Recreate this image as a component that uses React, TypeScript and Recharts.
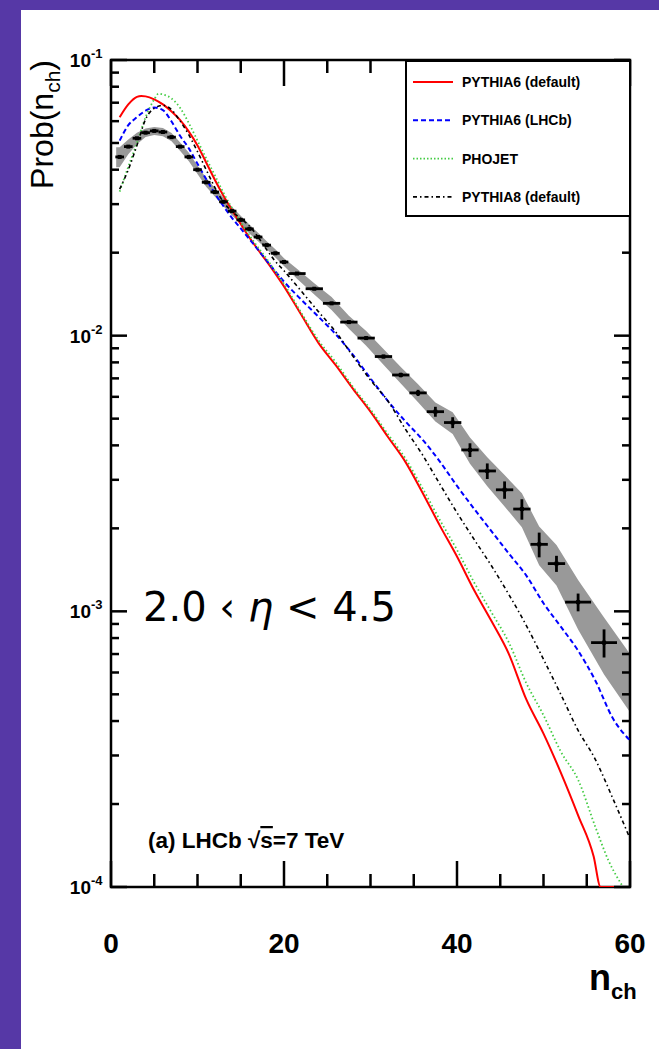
import React from 'react';
import {
  ComposedChart,
  Line,
  Area,
  Scatter,
  ErrorBar,
  XAxis,
  YAxis,
  ReferenceArea,
  Legend,
} from 'recharts';

// ---------------- data ----------------
// measured data points (bin centre, value, half bin width, stat error)
const dataN = [1, 2, 3, 4, 5, 6, 7, 8, 9, 10, 11, 12, 13, 14, 15, 16, 17, 18, 19, 20,
  21.5, 23.5, 25.5, 27.5, 29.5, 31.5, 33.5, 35.5, 37.5, 39.5, 41.5, 43.5, 45.5, 47.5, 49.5, 51.5, 54, 57];
const dataV = [0.0445, 0.0485, 0.052, 0.0545, 0.0553, 0.0548, 0.0525, 0.0485, 0.0445, 0.04,
  0.036, 0.0332, 0.0306, 0.0283, 0.0263, 0.0244, 0.0228, 0.0213, 0.0199, 0.0185,
  0.0168, 0.0148, 0.0131, 0.0112, 0.0098, 0.0084, 0.0072, 0.0062, 0.0053, 0.00484,
  0.00385, 0.00323, 0.00276, 0.00235, 0.00175, 0.00149, 0.00108, 0.00077];
const dataEx = [0.5, 0.5, 0.5, 0.5, 0.5, 0.5, 0.5, 0.5, 0.5, 0.5, 0.5, 0.5, 0.5, 0.5, 0.5, 0.5, 0.5, 0.5, 0.5, 0.5,
  1, 1, 1, 1, 1, 1, 1, 1, 1, 1, 1, 1, 1, 1, 1, 1, 1.5, 1.5];
const dataEy = [0.0002, 0.0002, 0.0002, 0.0002, 0.0002, 0.0002, 0.0002, 0.0002, 0.0002, 0.0002,
  0.0002, 0.0002, 0.00018, 0.00017, 0.00016, 0.00015, 0.00014, 0.00013, 0.00012, 0.00012,
  0.00015, 0.00014, 0.00013, 0.00013, 0.00013, 0.00013, 0.00014, 0.00016, 0.00022, 0.00022,
  0.00022, 0.00021, 0.0002, 0.0002, 0.00018, 0.0001, 0.00008, 0.00009];

// systematic uncertainty band
const bandN = [0.6, 1, 2, 3, 4, 5, 6, 7, 8, 9, 10, 11, 12, 13, 14, 15, 16, 17, 18, 19, 20,
  21.5, 23.5, 25.5, 27.5, 29.5, 31.5, 33.5, 35.5, 37.5, 39.5, 41.5, 43.5, 45.5, 47.5, 49.5, 51.5, 54, 57, 60];
const bandLow = [0.0408, 0.0408, 0.0455, 0.0495, 0.0526, 0.0534, 0.0529, 0.0507, 0.0468, 0.0429, 0.0386,
  0.0347, 0.032, 0.0295, 0.0273, 0.0254, 0.0235, 0.022, 0.0206, 0.0192, 0.0179,
  0.0161, 0.0141, 0.0124, 0.0106, 0.0092, 0.00785, 0.0067, 0.00574, 0.00488, 0.0044,
  0.00343, 0.00284, 0.0024, 0.00202, 0.00147, 0.00124, 0.00086, 0.00059, 0.00043];
const bandHigh = [0.0482, 0.0482, 0.0515, 0.0545, 0.0564, 0.0572, 0.0567, 0.0543, 0.0502, 0.0461, 0.0414,
  0.0373, 0.0344, 0.0317, 0.0293, 0.0272, 0.0253, 0.0236, 0.022, 0.0206, 0.0191,
  0.0175, 0.0155, 0.0138, 0.0118, 0.0104, 0.00895, 0.0077, 0.00667, 0.00572, 0.00528,
  0.00427, 0.00362, 0.00312, 0.00268, 0.00203, 0.00174, 0.0013, 0.00095, 0.0007];

// PYTHIA6 (default)
const p6DefN = [1, 2, 3, 3.5, 4, 5, 6, 7, 8, 9, 10, 11, 12, 13, 14, 15, 16, 17, 18, 19, 20,
  22, 24, 26, 28, 30, 32, 34, 36, 38, 40, 42, 44, 46, 48, 50, 52, 54, 55.8, 56.6, 58, 60];
const p6DefV = [0.062, 0.069, 0.0735, 0.074, 0.0738, 0.072, 0.069, 0.065, 0.0605, 0.055, 0.049,
  0.0425, 0.0368, 0.0322, 0.0285, 0.0254, 0.0227, 0.0205, 0.0186, 0.0168, 0.0151,
  0.0119, 0.0094, 0.0078, 0.0064, 0.0053, 0.0043, 0.0035, 0.0027, 0.00205, 0.00158,
  0.00119, 0.00092, 0.0007, 0.00048, 0.00036, 0.00026, 0.000182, 0.000129, 0.0001, 0.0001, 0.0001];

// PYTHIA6 (LHCb)
const p6LhcbN = [1, 2, 3, 4, 5, 6, 7, 8, 9, 10, 11, 12, 13, 14, 15, 16, 17, 18, 19, 20,
  22, 24, 26, 28, 30, 32, 34, 36, 38, 40, 42, 44, 46, 48, 50, 52, 54, 56, 58, 60];
const p6LhcbV = [0.051, 0.058, 0.062, 0.0655, 0.0672, 0.0658, 0.0598, 0.053, 0.0478, 0.042,
  0.037, 0.0328, 0.0295, 0.0267, 0.0245, 0.0224, 0.0205, 0.0187, 0.0171, 0.0157,
  0.0135, 0.0117, 0.0101, 0.0085, 0.007, 0.0058, 0.0049, 0.0042, 0.0035, 0.00285,
  0.00235, 0.00195, 0.00162, 0.00135, 0.00107, 0.00088, 0.00072, 0.00056, 0.00041, 0.00034];

// PHOJET
const phojetN = [1, 2, 3, 4, 5, 5.5, 6, 7, 8, 9, 10, 11, 12, 13, 14, 15, 16, 17, 18, 19, 20,
  22, 24, 26, 28, 30, 32, 34, 36, 38, 40, 42, 44, 46, 48, 50, 52, 54, 56, 57.5, 59.2];
const phojetV = [0.0333, 0.041, 0.05, 0.062, 0.072, 0.0755, 0.075, 0.0725, 0.067, 0.059, 0.051,
  0.044, 0.0382, 0.033, 0.029, 0.0258, 0.0231, 0.0209, 0.019, 0.0171, 0.0154,
  0.0121, 0.0096, 0.008, 0.0065, 0.0054, 0.0044, 0.0036, 0.0028, 0.00215, 0.00167,
  0.00127, 0.00099, 0.00077, 0.00055, 0.00042, 0.00031, 0.000245, 0.000165, 0.000125, 0.0001];

// PYTHIA8 (default)
const p8N = [1, 2, 3, 4, 5, 6, 7, 8, 9, 10, 11, 12, 13, 14, 15, 16, 17, 18, 19, 20,
  22, 24, 26, 28, 30, 32, 34, 36, 38, 40, 42, 44, 46, 48, 50, 52, 54, 56, 58, 60];
const p8V = [0.034, 0.04, 0.049, 0.061, 0.0668, 0.0685, 0.066, 0.06, 0.0535, 0.0465,
  0.04, 0.0345, 0.0305, 0.0282, 0.0266, 0.025, 0.0228, 0.0205, 0.0186, 0.0172,
  0.0145, 0.0122, 0.0103, 0.0084, 0.0069, 0.0058, 0.0046, 0.0037, 0.0029, 0.00228,
  0.00182, 0.00146, 0.00115, 0.00089, 0.00067, 0.0005, 0.00037, 0.00029, 0.00021, 0.00015];

// ticks
const xTicks = [0, 5, 10, 15, 20, 25, 30, 35, 40, 45, 50, 55, 60];
const xLabelTicks = [0, 20, 40, 60];
const yTicks = [0.0001, 0.0002, 0.0003, 0.0004, 0.0005, 0.0006, 0.0007, 0.0008, 0.0009,
  0.001, 0.002, 0.003, 0.004, 0.005, 0.006, 0.007, 0.008, 0.009,
  0.01, 0.02, 0.03, 0.04, 0.05, 0.06, 0.07, 0.08, 0.09, 0.1];
const yLabelTicks = [0.0001, 0.001, 0.01, 0.1];
const yLabelExp = ['-4', '-3', '-2', '-1'];

const legendNames = ['PYTHIA6 (default)', 'PYTHIA6 (LHCb)', 'PHOJET', 'PYTHIA8 (default)'];

// ---------------- tables ----------------
const dataRows = dataN.map((n, i) => ({ n, v: dataV[i], ex: dataEx[i], ey: dataEy[i] }));
const bandRows = bandN.map((n, i) => ({ n, band: [bandLow[i], bandHigh[i]] }));
const rows = (ns: number[], vs: number[]) => ns.map((n, i) => ({ n, v: vs[i] }));
const p6DefRows = rows(p6DefN, p6DefV);
const p6LhcbRows = rows(p6LhcbN, p6LhcbV);
const phojetRows = rows(phojetN, phojetV);
const p8Rows = rows(p8N, p8V);

// ---------------- layout & style ----------------
const W = 659;
const H = 1049;
const PL = 111;
const PR = 630;
const PT = 60;
const PB = 887;
const SANS = "'Liberation Sans', Arial, Helvetica, sans-serif";

const RED = '#ff0000';
const BLUE = '#0000ff';
const GREEN = '#44cc44';
const BLACK = '#000000';

const legendStyles = [
  { color: RED, dash: undefined as string | undefined, w: 2 },
  { color: BLUE, dash: '5 3', w: 2 },
  { color: GREEN, dash: '1.5 2', w: 1.6 },
  { color: BLACK, dash: '4 3 1.5 3', w: 1.6 },
];

const XTick = (props: any) => {
  const { x, payload } = props;
  const v = payload.value;
  const major = xLabelTicks.indexOf(v) >= 0;
  const len = major ? 26 : 13;
  return (
    <g>
      <line x1={x} x2={x} y1={PB} y2={PB - len} stroke="#000" strokeWidth={2.5} />
      <line x1={x} x2={x} y1={PT} y2={PT + len} stroke="#000" strokeWidth={2.5} />
      {major && (
        <text x={x} y={953} textAnchor="middle" fontSize={28} fontWeight="bold" fontFamily={SANS} fill="#000">
          {String(v)}
        </text>
      )}
    </g>
  );
};

const YTick = (props: any) => {
  const { y, payload } = props;
  const v = payload.value;
  const idx = yLabelTicks.findIndex((t) => Math.abs(t - v) / t < 1e-6);
  const major = idx >= 0;
  const len = major ? 16 : 8;
  return (
    <g>
      <line x1={PL} x2={PL + len} y1={y} y2={y} stroke="#000" strokeWidth={2.5} />
      <line x1={PR - len} x2={PR} y1={y} y2={y} stroke="#000" strokeWidth={2.5} />
      {major && (
        <g>
          <text x={91} y={y + 7} textAnchor="end" fontSize={19} fontWeight="bold" fontFamily={SANS} fill="#000">
            10
          </text>
          <text x={91} y={y - 2} textAnchor="start" fontSize={13} fontWeight="bold" fontFamily={SANS} fill="#000">
            {yLabelExp[idx]}
          </text>
        </g>
      )}
    </g>
  );
};

const LegendBox = () => (
  <div
    style={{
      width: 226,
      height: 157,
      boxSizing: 'border-box',
      border: '2.5px solid #000',
      background: '#fff',
    }}
  >
    <svg width={221} height={152} style={{ display: 'block' }}>
      {legendNames.map((name, i) => {
        const cy = 20 + i * 38.3;
        const s = legendStyles[i];
        return (
          <g key={name}>
            <line x1={6} x2={46} y1={cy} y2={cy} stroke={s.color} strokeWidth={s.w} strokeDasharray={s.dash} />
            <text x={55} y={cy + 5} fontSize={14} fontWeight="bold" fontFamily={SANS} fill="#000">
              {name}
            </text>
          </g>
        );
      })}
    </svg>
  </div>
);

const DataMarker = (props: any) => {
  const { cx, cy } = props;
  if (cx == null || cy == null) return null;
  return <rect x={cx - 2} y={cy - 2} width={4} height={4} fill="#000" />;
};

export default function App() {
  return (
    <div style={{ position: 'absolute', left: 0, top: 0, width: W, height: H, background: '#5638a6', overflow: 'hidden' }}>
      <div style={{ position: 'absolute', left: 21, top: 10, right: 0, bottom: 0, background: '#ffffff' }} />
      <div style={{ position: 'absolute', left: 0, top: 0 }}>
        <ComposedChart width={W} height={H} margin={{ top: PT, right: W - PR, bottom: H - PB - 1, left: PL - 1 }}>
          <XAxis
            dataKey="n"
            type="number"
            domain={[0, 60]}
            ticks={xTicks}
            interval={0}
            tick={XTick}
            tickLine={false}
            axisLine={false}
            height={1}
            allowDataOverflow
          />
          <YAxis
            type="number"
            scale="log"
            domain={[0.0001, 0.1]}
            ticks={yTicks}
            interval={0}
            tick={YTick}
            tickLine={false}
            axisLine={false}
            width={1}
            allowDataOverflow
          />
          <Area
            data={bandRows}
            dataKey="band"
            type="linear"
            fill="#999999"
            fillOpacity={1}
            stroke="none"
            isAnimationActive={false}
            legendType="none"
          />
          <Line data={p6DefRows} dataKey="v" name={legendNames[0]} type="monotone" stroke={RED} strokeWidth={2} dot={false} isAnimationActive={false} />
          <Line data={p6LhcbRows} dataKey="v" name={legendNames[1]} type="monotone" stroke={BLUE} strokeWidth={2} strokeDasharray="5 3" dot={false} isAnimationActive={false} />
          <Line data={phojetRows} dataKey="v" name={legendNames[2]} type="monotone" stroke={GREEN} strokeWidth={1.8} strokeDasharray="1.5 2.5" dot={false} isAnimationActive={false} />
          <Line data={p8Rows} dataKey="v" name={legendNames[3]} type="monotone" stroke={BLACK} strokeWidth={1.6} strokeDasharray="4 3 1.5 3" dot={false} isAnimationActive={false} />
          <Scatter data={dataRows} dataKey="v" name="LHCb data" shape={DataMarker} isAnimationActive={false} legendType="none">
            <ErrorBar dataKey="ex" direction="x" width={0} stroke="#000" strokeWidth={2.8} />
            <ErrorBar dataKey="ey" direction="y" width={0} stroke="#000" strokeWidth={2.8} />
          </Scatter>
          <ReferenceArea x1={0} x2={60} y1={0.0001} y2={0.1} fill="none" fillOpacity={0} stroke="#000" strokeWidth={2.5} ifOverflow="visible" />
          <Legend
            layout="vertical"
            align="center"
            verticalAlign="middle"
            content={LegendBox}
            wrapperStyle={{ left: 405, top: 60, width: 226, height: 157, margin: 0, padding: 0 }}
          />
        </ComposedChart>
      </div>
      <svg width={W} height={H} style={{ position: 'absolute', left: 0, top: 0, pointerEvents: 'none' }}>
        <text transform="rotate(-90)" x={-60} y={53} textAnchor="end" fontSize={32} fontFamily={SANS} fill="#000">
          Prob(n
          <tspan fontSize={21} dy={7}>ch</tspan>
          <tspan fontSize={32} dy={-7}>)</tspan>
        </text>
        <text x={143} y={621} fontSize={40} fontFamily="'DejaVu Sans', sans-serif" fill="#000">
          2.0 ‹ <tspan fontStyle="italic">η</tspan> &lt; 4.5
        </text>
        <text x={148} y={848} fontSize={22.5} fontWeight="bold" fontFamily={SANS} fill="#000">
          (a) LHCb √<tspan textDecoration="overline">s</tspan>=7 TeV
        </text>
        <text x={589} y={990} fontSize={36} fontWeight="bold" fontFamily={SANS} fill="#000">
          n<tspan fontSize={22} dy={9}>ch</tspan>
        </text>
      </svg>
    </div>
  );
}
